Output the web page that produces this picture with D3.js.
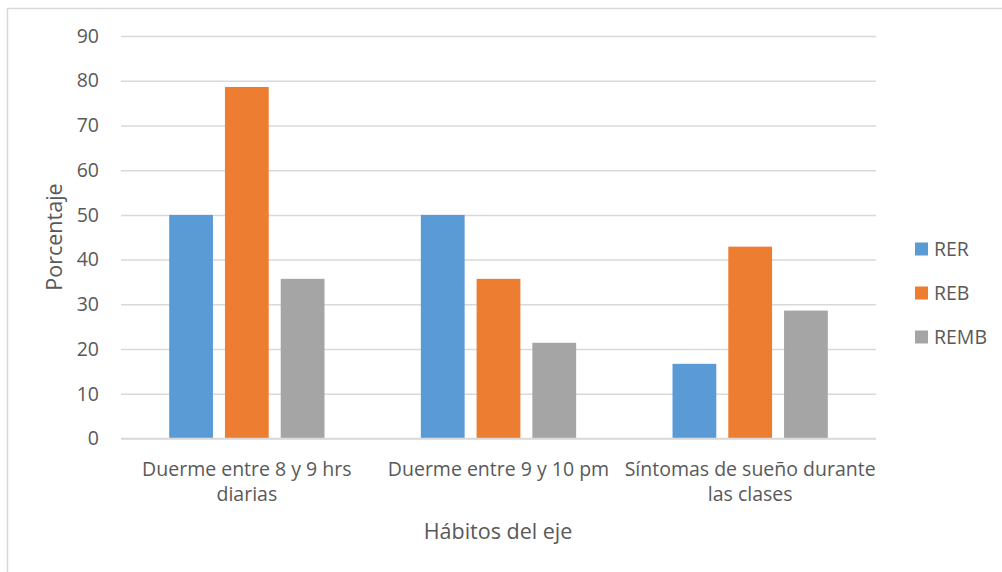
<!DOCTYPE html>
<html>
<head>
<meta charset="utf-8">
<script src="https://cdn.jsdelivr.net/npm/d3@7"></script>
<style>
  html, body { margin: 0; padding: 0; background: #fff; }
  svg { display: block; }
  text { font-family: "Open Sans", "Noto Sans", sans-serif; fill: #595959; }
</style>
</head>
<body>
<svg id="chart" width="1002" height="572"></svg>
<script>
// Category labels (wrapped on two lines where needed)
const categories = ["Duerme entre 8 y 9 hrs diarias", "Duerme entre 9 y 10 pm", "Síntomas de sueño durante las clases"];
const categoryLines = [["Duerme entre 8 y 9 hrs", "diarias"], ["Duerme entre 9 y 10 pm"], ["Síntomas de sueño durante", "las clases"]];
const seriesNames = ["RER", "REB", "REMB"];
const seriesColors = ["#5b9bd5", "#ed7d31", "#a5a5a5"];
const RER = [50, 50, 16.7];
const REB = [78.6, 35.7, 42.9];
const REMB = [35.7, 21.4, 28.6];
const yTicks = [0, 10, 20, 30, 40, 50, 60, 70, 80, 90];

const seriesValues = [RER, REB, REMB];
const svg = d3.select("#chart");

// Chart frame
svg.append("rect")
  .attr("x", 7.5).attr("y", 8.5)
  .attr("width", 1100).attr("height", 700)
  .attr("fill", "none").attr("stroke", "#d9d9d9").attr("stroke-width", 1.5);

const plot = { left: 121, right: 876, top: 36, bottom: 438.5 };

const y = d3.scaleLinear().domain([0, 90]).range([plot.bottom, plot.top]);
const x0 = d3.scaleBand().domain(categories).range([plot.left, plot.right]).paddingInner(0).paddingOuter(0);
const groupW = 155.3;
const x1 = d3.scaleBand().domain(seriesNames)
  .range([(x0.bandwidth() - groupW) / 2, (x0.bandwidth() + groupW) / 2])
  .paddingInner(0.215).paddingOuter(0);

// Gridlines and tick labels
const yAxis = d3.axisLeft(y).tickValues(yTicks).tickSize(-(plot.right - plot.left)).tickPadding(22);
const gy = svg.append("g").attr("transform", `translate(${plot.left},0)`).call(yAxis);
gy.select(".domain").remove();
gy.selectAll(".tick line").attr("stroke", "#d9d9d9").attr("stroke-width", 1.5);
gy.selectAll(".tick text").attr("font-size", 19.5).style("fill", "#595959")
  .style("font-family", "'Open Sans', sans-serif");

// Bars
const groups = svg.append("g").selectAll("g")
  .data(categories).join("g")
  .attr("transform", d => `translate(${x0(d)},0)`);

groups.selectAll("rect")
  .data((d, i) => seriesNames.map((s, j) => ({ s, v: seriesValues[j][i], c: seriesColors[j] })))
  .join("rect")
  .attr("x", d => x1(d.s))
  .attr("width", x1.bandwidth())
  .attr("y", d => y(d.v))
  .attr("height", d => y(0) - y(d.v))
  .attr("fill", d => d.c);

// Category axis line
svg.append("line")
  .attr("x1", plot.left).attr("x2", plot.right)
  .attr("y1", y(0)).attr("y2", y(0))
  .attr("stroke", "#d9d9d9").attr("stroke-width", 1.5);

// Category labels
categories.forEach((c, i) => {
  const t = svg.append("text")
    .attr("x", x0(c) + x0.bandwidth() / 2)
    .attr("y", 476)
    .attr("text-anchor", "middle")
    .attr("font-size", 19.5);
  categoryLines[i].forEach((line, k) => {
    t.append("tspan").attr("x", x0(c) + x0.bandwidth() / 2).attr("dy", k === 0 ? 0 : 25).text(line);
  });
});

// Axis titles
svg.append("text")
  .attr("x", 498).attr("y", 539)
  .attr("text-anchor", "middle").attr("font-size", 21.5)
  .text("Hábitos del eje");

svg.append("text")
  .attr("transform", "translate(62,237) rotate(-90)")
  .attr("text-anchor", "middle").attr("font-size", 21.5)
  .text("Porcentaje");

// Legend
const legend = svg.append("g").selectAll("g")
  .data(seriesNames).join("g")
  .attr("transform", (d, i) => `translate(915,${249 + i * 44})`);
legend.append("rect")
  .attr("x", 0).attr("y", -6.5).attr("width", 13).attr("height", 13)
  .attr("fill", (d, i) => seriesColors[i]);
legend.append("text")
  .attr("x", 19).attr("y", 7).attr("font-size", 19.5)
  .text(d => d);
</script>
</body>
</html>
